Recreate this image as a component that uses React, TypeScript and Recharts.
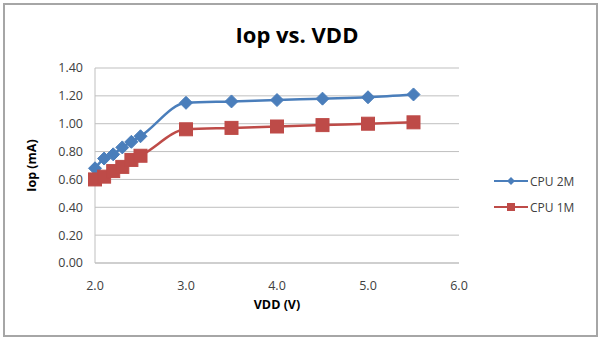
import { LineChart, Line, XAxis, YAxis, CartesianGrid } from 'recharts';

const vdd = [2.0, 2.1, 2.2, 2.3, 2.4, 2.5, 3.0, 3.5, 4.0, 4.5, 5.0, 5.5];
const cpu2m = [0.68, 0.75, 0.78, 0.83, 0.87, 0.91, 1.15, 1.16, 1.17, 1.18, 1.19, 1.21];
const cpu1m = [0.6, 0.62, 0.66, 0.69, 0.74, 0.77, 0.96, 0.97, 0.98, 0.99, 1.0, 1.01];
const xTicks = [2, 3, 4, 5, 6];
const yTicks = [0, 0.2, 0.4, 0.6, 0.8, 1.0, 1.2, 1.4];

const data = vdd.map((v, i) => ({ vdd: v, cpu2m: cpu2m[i], cpu1m: cpu1m[i] }));

const BLUE = '#4a7ebb';
const RED = '#be4b48';
const FONT = '"Open Sans", "Noto Sans", sans-serif';

const Diamond = (props: any) => {
  const { cx, cy } = props;
  if (cx == null || cy == null) return null;
  const r = 6.5;
  return (
    <path
      d={`M${cx},${cy - r}L${cx + r},${cy}L${cx},${cy + r}L${cx - r},${cy}Z`}
      fill={BLUE}
      stroke={BLUE}
    />
  );
};

const Square = (props: any) => {
  const { cx, cy } = props;
  if (cx == null || cy == null) return null;
  const s = 6.5;
  return <rect x={cx - s} y={cy - s} width={s * 2} height={s * 2} fill={RED} stroke={RED} />;
};

const LegendBox = () => (
  <div style={{ fontFamily: FONT, fontSize: 12, color: '#404040' }}>
    {[
      { name: 'CPU 2M', color: BLUE, shape: 'd' },
      { name: 'CPU 1M', color: RED, shape: 's' },
    ].map((it) => (
      <div key={it.name} style={{ display: 'flex', alignItems: 'center', height: 26 }}>
        <svg width={34} height={12}>
          <line x1={0} y1={6} x2={34} y2={6} stroke={it.color} strokeWidth={2} />
          {it.shape === 'd' ? (
            <path d="M17,2L21,6L17,10L13,6Z" fill={it.color} />
          ) : (
            <rect x={13} y={2} width={8} height={8} fill={it.color} />
          )}
        </svg>
        <span style={{ marginLeft: 2 }}>{it.name}</span>
      </div>
    ))}
  </div>
);

export default function App() {
  return (
    <div
      style={{
        position: 'absolute',
        left: 0,
        top: 0,
        width: 600,
        height: 339,
        background: '#fff',
      }}
    >
      <div
        style={{
          position: 'absolute',
          left: 3,
          top: 3,
          width: 591,
          height: 330,
          border: '2px solid #a6a6a6',
        }}
      />
      <div
        style={{
          position: 'absolute',
          top: 19,
          left: 0,
          width: 594,
          textAlign: 'center',
          fontFamily: FONT,
          fontWeight: 700,
          fontSize: 22,
          color: '#000',
        }}
      >
        Iop vs. VDD
      </div>
      <div style={{ position: 'absolute', left: 494, top: 168 }}>
        <LegendBox />
      </div>
      <LineChart
        width={600}
        height={339}
        data={data}
        margin={{ top: 68, right: 141, bottom: 0, left: 20 }}
      >
        <CartesianGrid vertical={false} stroke="#bfbfbf" />
        <XAxis
          dataKey="vdd"
          type="number"
          domain={[2, 6]}
          ticks={xTicks}
          tickFormatter={(v: number) => v.toFixed(1)}
          tickLine={false}
          axisLine={{ stroke: '#bfbfbf' }}
          tick={{ fill: '#404040', fontSize: 12.5, fontFamily: FONT }}
          tickMargin={12}
          height={76}
          label={{
            value: 'VDD (V)',
            position: 'insideTop',
            offset: 37,
            style: { fontWeight: 700, fontSize: 12.5, fill: '#000', fontFamily: FONT },
          }}
        />
        <YAxis
          type="number"
          domain={[0, 1.4]}
          ticks={yTicks}
          tickFormatter={(v: number) => v.toFixed(2)}
          tickLine={false}
          axisLine={{ stroke: '#bfbfbf' }}
          tick={{ fill: '#404040', fontSize: 12.5, fontFamily: FONT }}
          tickMargin={6}
          width={75}
          label={{
            value: 'Iop (mA)',
            angle: -90,
            position: 'insideLeft',
            offset: 12,
            style: { fontWeight: 700, fontSize: 12.5, fill: '#000', fontFamily: FONT, textAnchor: 'middle' },
          }}
        />
        <Line
          type="monotone"
          dataKey="cpu2m"
          name="CPU 2M"
          stroke={BLUE}
          strokeWidth={2.5}
          dot={<Diamond />}
          activeDot={false}
          isAnimationActive={false}
        />
        <Line
          type="monotone"
          dataKey="cpu1m"
          name="CPU 1M"
          stroke={RED}
          strokeWidth={2.5}
          dot={<Square />}
          activeDot={false}
          isAnimationActive={false}
        />
      </LineChart>
    </div>
  );
}
